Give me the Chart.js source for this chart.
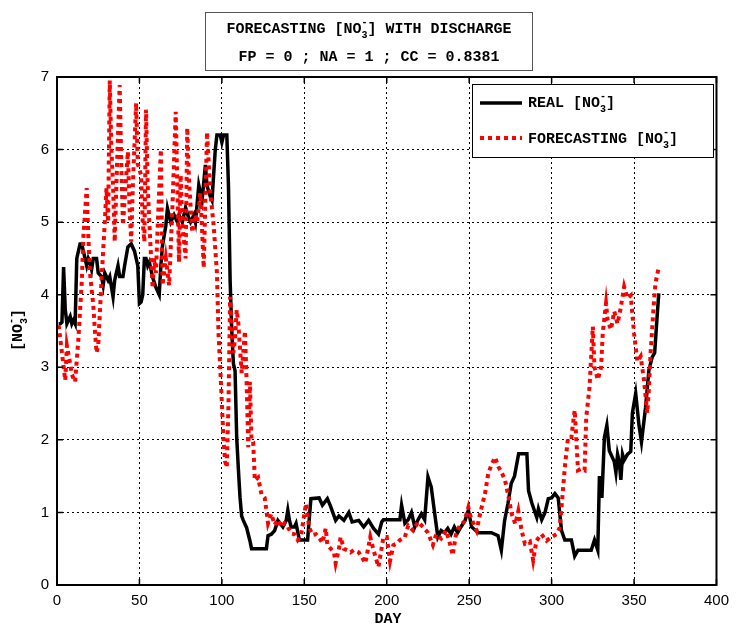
<!DOCTYPE html>
<html>
<head>
<meta charset="utf-8">
<script src="https://cdn.jsdelivr.net/npm/chart.js@4/dist/chart.umd.min.js"></script>
<style>
  html, body { margin: 0; padding: 0; background: #fff; }
  #wrap { width: 736px; height: 625px; }
</style>
</head>
<body>
<div id="wrap"><canvas id="chart" width="736" height="625"></canvas></div>
<script>
// Dados (dia, valor)
const realDays = [1, 2, 3, 4, 5, 6, 8, 9, 10, 11, 12, 13, 14, 15, 16, 17, 18, 19, 20, 21, 22, 24, 25, 27, 28, 29, 31, 32, 34, 35, 36, 37, 38, 40, 41, 43, 45, 47, 48, 49, 50, 51, 52, 53, 54, 55, 56, 58, 60, 62, 63, 64, 66, 67, 69, 71, 73, 74, 76, 78, 80, 81, 83, 84, 86, 88, 90, 91, 93, 94, 96, 97, 99, 100, 101, 103, 104, 105, 106, 107, 108, 109, 110, 111, 112, 113, 115, 116, 117, 118, 127, 128, 130, 132, 134, 137, 139, 140, 141, 142, 144, 145, 147, 152, 154, 159, 161, 164, 166, 169, 171, 174, 177, 179, 183, 186, 189, 192, 195, 197, 198, 208, 209, 211, 213, 215, 217, 219, 221, 223, 225, 227, 229, 231, 233, 235, 237, 239, 241, 243, 245, 247.5, 249.5, 251.5, 255.5, 263.5, 267.5, 269.5, 271.5, 273.5, 275.5, 277.5, 280, 285, 286, 288, 291, 292, 294, 296, 298, 300, 302, 304, 306, 308, 312, 314, 316, 324, 326, 328, 329, 330.5, 332, 333.5, 335, 338, 339, 340, 341, 342, 343, 344, 346, 348, 349, 351, 353, 354.5, 357, 359, 361, 362.5, 364, 365];
const realValues = [3.6, 3.6, 3.62, 4.38, 3.8, 3.6, 3.7, 3.6, 3.65, 3.6, 4.5, 4.6, 4.7, 4.7, 4.6, 4.5, 4.4, 4.5, 4.45, 4.35, 4.5, 4.5, 4.3, 4.25, 4.13, 4.3, 4.2, 4.25, 3.97, 4.2, 4.3, 4.4, 4.25, 4.25, 4.4, 4.66, 4.7, 4.6, 4.5, 4.4, 3.88, 3.9, 4.0, 4.5, 4.5, 4.4, 4.45, 4.24, 4.1, 4.0, 4.4, 4.68, 4.95, 5.19, 5.0, 5.1, 5.0, 5.1, 5.0, 5.2, 5.05, 5.0, 5.1, 5.0, 5.51, 5.3, 5.79, 5.5, 5.35, 5.3, 6.0, 6.2, 6.2, 6.1, 6.2, 6.2, 5.5, 4.2, 3.5, 3.05, 2.95, 2.03, 1.6, 1.21, 0.95, 0.89, 0.79, 0.7, 0.61, 0.5, 0.5, 0.68, 0.7, 0.75, 0.89, 0.8, 0.89, 1.03, 0.89, 0.8, 0.8, 0.85, 0.62, 0.62, 1.19, 1.2, 1.1, 1.19, 1.08, 0.89, 0.95, 0.89, 1.0, 0.87, 0.89, 0.8, 0.89, 0.78, 0.7, 0.87, 0.9, 0.9, 1.1, 0.85, 0.9, 1.0, 0.8, 0.9, 0.98, 0.9, 1.49, 1.35, 1.0, 0.66, 0.75, 0.72, 0.78, 0.7, 0.8, 0.72, 0.8, 0.89, 1.03, 0.8, 0.72, 0.72, 0.68, 0.48, 0.89, 1.12, 1.4, 1.5, 1.81, 1.81, 1.3, 1.13, 0.93, 1.05, 0.9, 1.0, 1.19, 1.2, 1.26, 1.2, 0.75, 0.62, 0.62, 0.4, 0.48, 0.48, 0.62, 0.48, 1.5, 1.2, 2.03, 2.2, 1.85, 1.7, 1.55, 1.8, 1.7, 1.45, 1.8, 1.72, 1.8, 1.84, 2.37, 2.64, 2.2, 1.97, 2.45, 2.96, 3.14, 3.2, 3.7, 4.02];

const fcDays = [1, 3, 5, 6, 8, 9, 11, 13, 15, 16, 18, 19, 20, 22, 23, 24, 25, 27, 29, 30, 31, 32, 33, 34, 35, 36, 38, 39, 40, 41, 43, 44, 45, 46, 48, 49, 51, 52, 53, 54, 55, 56, 58, 59, 60, 61, 63, 64, 66, 68, 70, 72, 73, 74, 75, 76, 78, 79, 80, 82, 84, 85, 87, 89, 91, 93, 95, 97, 98, 99, 100, 101, 102, 103, 104, 105, 106, 107, 108, 109, 110, 112, 114, 115, 116, 117, 118, 119, 120, 122, 124, 126, 128, 130, 132, 134, 136, 138, 140, 142, 144, 146, 148, 151, 153, 155, 157, 159, 161, 163, 164, 166, 168, 169, 171, 172, 174, 176, 178, 180, 183, 185, 187, 190, 192, 195, 198, 200, 202, 204, 206, 208, 211, 213, 216, 219, 222, 225, 228, 230, 233, 236, 238, 240, 242, 244.5, 247, 249.5, 251, 254.5, 256.6, 259.6, 261.6, 263.6, 265.7, 267.7, 269.7, 271.7, 273.8, 275.8, 278, 279.8, 281.8, 283.8, 286.8, 288.8, 290.8, 293.8, 296.9, 299.9, 302.9, 304.9, 306, 308, 310, 312, 314, 315, 316, 318, 320, 321, 323, 325, 326, 328, 330, 331, 333, 334, 336, 338, 340, 342, 344, 346, 348, 350, 352, 354, 356, 358, 359, 360, 362, 363, 365];
const fcValues = [3.58, 3.2, 2.82, 3.3, 3.05, 2.9, 2.8, 3.4, 4.17, 4.8, 5.47, 4.8, 4.3, 3.86, 3.5, 3.2, 3.3, 4.2, 5.0, 5.47, 5.0, 6.95, 6.0, 5.5, 4.73, 5.5, 6.89, 5.8, 4.96, 5.3, 5.97, 5.2, 4.73, 5.5, 6.64, 5.8, 5.65, 5.0, 4.73, 6.55, 5.5, 5.0, 4.09, 4.5, 4.3, 4.9, 6.0, 4.13, 4.5, 4.13, 5.2, 6.52, 5.5, 4.45, 5.65, 5.0, 4.5, 6.3, 5.6, 4.86, 5.1, 5.0, 5.4, 4.37, 6.24, 5.4, 4.96, 4.3, 3.44, 3.0, 2.5, 2.0, 1.7, 1.62, 2.5, 3.97, 3.5, 3.2, 3.4, 3.79, 3.6, 2.92, 3.5, 2.8, 1.9, 2.8, 2.0, 1.97, 1.44, 1.48, 1.25, 1.2, 0.85, 0.98, 0.83, 0.9, 0.8, 0.85, 0.8, 0.71, 0.7, 0.62, 0.68, 1.12, 0.79, 0.69, 0.7, 0.65, 0.58, 0.78, 0.55, 0.5, 0.45, 0.3, 0.5, 0.66, 0.5, 0.48, 0.45, 0.48, 0.45, 0.38, 0.3, 0.66, 0.48, 0.25, 0.66, 0.66, 0.33, 0.55, 0.57, 0.62, 0.66, 0.82, 0.75, 0.87, 0.8, 0.72, 0.55, 0.7, 0.64, 0.75, 0.6, 0.41, 0.7, 0.83, 0.87, 1.07, 0.93, 0.75, 0.98, 1.26, 1.54, 1.66, 1.76, 1.63, 1.55, 1.45, 1.22, 0.98, 0.84, 1.02, 0.75, 0.57, 0.6, 0.34, 0.61, 0.7, 0.61, 0.66, 0.7, 0.79, 1.07, 1.62, 2.04, 2.04, 2.41, 2.0, 1.58, 1.6, 1.58, 2.31, 2.73, 3.56, 3.0, 2.83, 3.0, 3.47, 3.88, 3.65, 3.52, 3.77, 3.6, 3.83, 4.11, 3.95, 3.99, 3.47, 3.08, 3.15, 2.83, 2.37, 2.7, 3.19, 3.88, 4.16, 4.38];

const xTickStep = 50, xMax = 400;
const yTickStep = 1, yMax = 7;

const MONO = '"Liberation Mono", "DejaVu Sans Mono", monospace';

function toPoints(xs, ys) {
  return xs.map((x, i) => ({ x, y: ys[i] }));
}

// texto com "NO3-" (índice 3 embaixo e sinal - em cima, empilhados)
function richWidth(ctx, parts, size) {
  let w = 0;
  parts.forEach(p => {
    if (p.t) { ctx.font = `bold ${size}px ${MONO}`; w += ctx.measureText(p.t).width; }
    else { ctx.font = `bold ${Math.round(size * 0.68)}px ${MONO}`; w += ctx.measureText(p.sub).width; }
  });
  return w;
}
function drawRich(ctx, parts, x, y, size, align) {
  const w = richWidth(ctx, parts, size);
  let cx = align === 'center' ? x - w / 2 : x;
  ctx.textAlign = 'left';
  ctx.textBaseline = 'alphabetic';
  ctx.fillStyle = '#000';
  parts.forEach(p => {
    if (p.t) {
      ctx.font = `bold ${size}px ${MONO}`;
      ctx.fillText(p.t, cx, y);
      cx += ctx.measureText(p.t).width;
    } else {
      ctx.font = `bold ${Math.round(size * 0.68)}px ${MONO}`;
      ctx.fillText(p.sup, cx, y - size * 0.55);
      ctx.fillText(p.sub, cx, y + size * 0.35);
      cx += ctx.measureText(p.sub).width;
    }
  });
}
const NO3 = { sub: '3', sup: '-' };

const framePlugin = {
  id: 'frame',
  afterDatasetsDraw(chart) {
    const { ctx, chartArea: a, scales } = chart;
    ctx.save();
    ctx.strokeStyle = '#000';
    ctx.lineWidth = 2;
    ctx.setLineDash([]);
    ctx.strokeRect(a.left, a.top, a.right - a.left, a.bottom - a.top);
    ctx.lineWidth = 1.5;
    ctx.beginPath();
    scales.x.ticks.forEach(t => {
      const px = scales.x.getPixelForValue(t.value);
      ctx.moveTo(px, a.bottom); ctx.lineTo(px, a.bottom - 6);
      ctx.moveTo(px, a.top); ctx.lineTo(px, a.top + 6);
    });
    scales.y.ticks.forEach(t => {
      const py = scales.y.getPixelForValue(t.value);
      ctx.moveTo(a.left, py); ctx.lineTo(a.left + 6, py);
      ctx.moveTo(a.right, py); ctx.lineTo(a.right - 6, py);
    });
    ctx.stroke();

    // legenda
    ctx.fillStyle = '#fff';
    ctx.fillRect(472, 84, 241, 73);
    ctx.strokeStyle = '#000';
    ctx.lineWidth = 1;
    ctx.strokeRect(472.5, 84.5, 241, 73);
    ctx.lineWidth = 3.5;
    ctx.beginPath(); ctx.moveTo(480, 103); ctx.lineTo(522, 103); ctx.stroke();
    ctx.strokeStyle = '#ff0000';
    ctx.lineWidth = 4;
    ctx.setLineDash([4, 4]);
    ctx.beginPath(); ctx.moveTo(480, 138); ctx.lineTo(522, 138); ctx.stroke();
    ctx.setLineDash([]);
    drawRich(ctx, [{ t: 'REAL [NO' }, NO3, { t: ']' }], 528, 107, 15, 'left');
    drawRich(ctx, [{ t: 'FORECASTING [NO' }, NO3, { t: ']' }], 528, 143, 15, 'left');
    ctx.restore();
  },
  afterDraw(chart) {
    const { ctx } = chart;
    ctx.save();
    // caixa do título
    ctx.fillStyle = '#fff';
    ctx.fillRect(205, 12, 327, 58);
    ctx.strokeStyle = '#555';
    ctx.lineWidth = 1;
    ctx.strokeRect(205.5, 12.5, 327, 58);
    drawRich(ctx, [{ t: 'FORECASTING [NO' }, NO3, { t: '] WITH DISCHARGE' }], 369, 33, 15, 'center');
    drawRich(ctx, [{ t: 'FP = 0 ; NA = 1 ; CC = 0.8381' }], 369, 61, 15, 'center');
    // eixo x
    drawRich(ctx, [{ t: 'DAY' }], 388, 623, 15, 'center');
    // eixo y
    ctx.translate(22, 330);
    ctx.rotate(-Math.PI / 2);
    drawRich(ctx, [{ t: '[NO' }, NO3, { t: ']' }], 0, 0, 15, 'center');
    ctx.restore();
  }
};

new Chart(document.getElementById('chart'), {
  type: 'line',
  data: {
    datasets: [
      {
        label: 'FORECASTING [NO3-]',
        data: toPoints(fcDays, fcValues),
        borderColor: '#ff0000',
        borderWidth: 4,
        borderDash: [4, 4],
        borderCapStyle: 'butt',
        pointRadius: 0,
        tension: 0,
        order: 0,
      },
      {
        label: 'REAL [NO3-]',
        data: toPoints(realDays, realValues),
        borderColor: '#000',
        borderWidth: 3.5,
        pointRadius: 0,
        tension: 0,
        order: 1,
      },
    ],
  },
  options: {
    responsive: false,
    animation: false,
    devicePixelRatio: 1,
    layout: { padding: { top: 77, right: 17, left: 0, bottom: 0 } },
    plugins: { legend: { display: false }, tooltip: { enabled: false }, title: { display: false } },
    scales: {
      x: {
        type: 'linear',
        min: 0, max: xMax,
        afterFit: s => { s.height = 40; },
        ticks: { stepSize: xTickStep, color: '#000', padding: 7, maxRotation: 0,
                 font: { family: '"Liberation Sans", Arial, sans-serif', size: 15 } },
        grid: { color: '#000', lineWidth: 1, drawTicks: false },
        border: { display: false, dash: [2, 3] },
      },
      y: {
        min: 0, max: yMax,
        afterFit: s => { s.width = 57; },
        ticks: { stepSize: yTickStep, color: '#000', padding: 8,
                 font: { family: '"Liberation Sans", Arial, sans-serif', size: 15 } },
        grid: { color: '#000', lineWidth: 1, drawTicks: false },
        border: { display: false, dash: [2, 3] },
      },
    },
  },
  plugins: [framePlugin],
});
</script>
</body>
</html>
